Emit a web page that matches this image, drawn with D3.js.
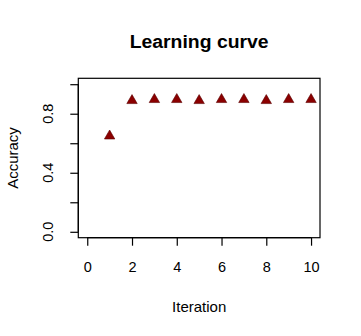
<!DOCTYPE html>
<meta charset="utf-8">
<script src="https://d3js.org/d3.v7.min.js"></script>
<style>
  body { margin: 0; background: #fff; }
  text { font-family: "Liberation Sans", Arial, sans-serif; fill: #000; }
</style>
<div id="my_dataviz"></div>
<script>
// data
var iterations = [1, 2, 3, 4, 5, 6, 7, 8, 9, 10];
var accuracy = [0.649, 0.889, 0.896, 0.896, 0.889, 0.896, 0.896, 0.889, 0.896, 0.896];
var xTicks = [0, 2, 4, 6, 8, 10];
var yTicks = [0, 0.2, 0.4, 0.6, 0.8, 1.0];
var yLabelTicks = [0, 0.4, 0.8];

var W = 361, H = 336;
var box = {left: 78.3, right: 320, top: 78.3, bottom: 237.7};

var svg = d3.select("#my_dataviz")
    .append("svg")
    .attr("width", W)
    .attr("height", H);

// R style: 4% extension around the limits
var x = d3.scaleLinear().domain([-0.4, 10.4]).range([box.left, box.right]);
var y = d3.scaleLinear().domain([-0.04, 1.04]).range([box.bottom, box.top]);

// plot frame
svg.append("rect")
    .attr("x", box.left).attr("y", box.top)
    .attr("width", box.right - box.left)
    .attr("height", box.bottom - box.top)
    .attr("fill", "none").attr("stroke", "#000").attr("stroke-width", 1.2);

// x axis
var xAxis = svg.append("g")
    .attr("transform", "translate(0," + box.bottom + ")")
    .call(d3.axisBottom(x).tickValues(xTicks).tickSize(8)
        .tickFormat(d3.format("d")));
xAxis.select(".domain").attr("d", "M" + x(0) + ",0H" + x(10)).attr("stroke-width", 1.2);
xAxis.selectAll(".tick line").attr("stroke-width", 1.2);
xAxis.selectAll("text").style("font-size", "14.5px").attr("y", 34.6).attr("dy", "0");

// y axis
var yAxis = svg.append("g")
    .attr("transform", "translate(" + box.left + ",0)")
    .call(d3.axisLeft(y).tickValues(yTicks).tickSize(8).tickFormat(""));
yAxis.select(".domain").attr("d", "M0," + y(0) + "V" + y(1)).attr("stroke-width", 1.2);
yAxis.selectAll(".tick line").attr("stroke-width", 1.2);

// y tick labels (R drops the ones that would overlap)
svg.selectAll(".ylab")
    .data(yLabelTicks)
    .enter()
    .append("text")
    .attr("class", "ylab")
    .attr("text-anchor", "middle")
    .attr("transform", function (d) { return "translate(52.5," + y(d) + ") rotate(-90)"; })
    .style("font-size", "14.5px")
    .text(d3.format(".1f"));

// title
svg.append("text")
    .attr("x", (box.left + box.right) / 2)
    .attr("y", 47.7)
    .attr("text-anchor", "middle")
    .attr("textLength", 139)
    .attr("lengthAdjust", "spacingAndGlyphs")
    .style("font-size", "17.5px")
    .style("font-weight", "bold")
    .text("Learning curve");

// axis titles
svg.append("text")
    .attr("x", (box.left + box.right) / 2)
    .attr("y", 311.7)
    .attr("text-anchor", "middle")
    .style("font-size", "15px")
    .text("Iteration");

svg.append("text")
    .attr("transform", "translate(17.5," + ((box.top + box.bottom) / 2) + ") rotate(-90)")
    .attr("text-anchor", "middle")
    .style("font-size", "15px")
    .text("Accuracy");

// points: filled triangles (pch 17)
var r = 6;
svg.append("g")
    .selectAll("path")
    .data(iterations)
    .enter()
    .append("path")
    .attr("d", function (d, i) {
        var cx = x(d), cy = y(accuracy[i]), xc = r * 0.866;
        return "M" + cx + "," + (cy - r) + "L" + (cx + xc) + "," + (cy + r / 2) +
            "L" + (cx - xc) + "," + (cy + r / 2) + "Z";
    })
    .attr("fill", "#8b0000")
    .attr("stroke", "#5a0000")
    .attr("stroke-width", 0.6);
</script>
